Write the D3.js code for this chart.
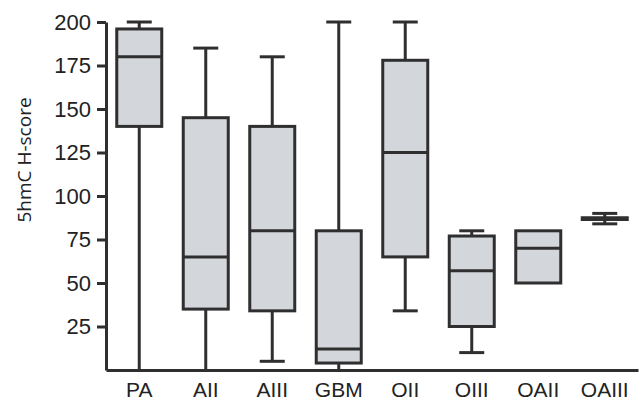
<!DOCTYPE html>
<html>
<head>
<meta charset="utf-8">
<script src="https://cdn.jsdelivr.net/npm/d3@7"></script>
<style>
  body { margin: 0; background: #fff; }
  svg { display: block; font-family: "Open Sans", "Liberation Sans", sans-serif; }
</style>
</head>
<body>
<svg class="box-chart" width="640" height="406"></svg>
<script>
let categories = ["PA", "AII", "AIII", "GBM", "OII", "OIII", "OAII", "OAIII"];
let whiskerLow  = [0,   0,   5,   0,   34,  10, 50, 84];
let q1          = [140, 35,  34,  4,   65,  25, 50, 86.5];
let median      = [180, 65,  80,  12,  125, 57, 70, 87];
let q3          = [196, 145, 140, 80,  178, 77, 80, 87.5];
let whiskerHigh = [200, 185, 180, 200, 200, 80, 80, 90];
let yTicks = [25, 50, 75, 100, 125, 150, 175, 200];

let dataSet = categories.map(function(c, i) {
  return { cat: c, lo: whiskerLow[i], q1: q1[i], med: median[i], q3: q3[i], hi: whiskerHigh[i] };
});

let lineColor = "#2f2f2f";
let boxWidth = 45;
let capWidth = 25;

let svg = d3.select(".box-chart");

let xScale = d3.scaleBand()
    .domain(categories)
    .range([106, 638])
    .padding(0);

let yScale = d3.scaleLinear()
    .domain([0, 200])
    .range([370, 22]);

let cx = function(d) { return xScale(d.cat) + xScale.bandwidth() / 2; };

let boxes = svg.append("g")
  .selectAll("g")
  .data(dataSet)
  .enter()
  .append("g");

// whiskers
boxes.append("line")
  .attr("x1", cx).attr("x2", cx)
  .attr("y1", function(d) { return yScale(d.hi); })
  .attr("y2", function(d) { return yScale(d.lo); })
  .attr("stroke", lineColor)
  .attr("stroke-width", 3);

// caps, only where the whisker sticks out of the box
boxes.filter(function(d) { return d.hi > d.q3; })
  .append("line")
  .attr("x1", function(d) { return cx(d) - capWidth / 2; })
  .attr("x2", function(d) { return cx(d) + capWidth / 2; })
  .attr("y1", function(d) { return yScale(d.hi); })
  .attr("y2", function(d) { return yScale(d.hi); })
  .attr("stroke", lineColor)
  .attr("stroke-width", 3);

boxes.filter(function(d) { return d.lo < d.q1 && d.lo > 0; })
  .append("line")
  .attr("x1", function(d) { return cx(d) - capWidth / 2; })
  .attr("x2", function(d) { return cx(d) + capWidth / 2; })
  .attr("y1", function(d) { return yScale(d.lo); })
  .attr("y2", function(d) { return yScale(d.lo); })
  .attr("stroke", lineColor)
  .attr("stroke-width", 3);

// boxes
boxes.append("rect")
  .attr("x", function(d) { return cx(d) - boxWidth / 2; })
  .attr("y", function(d) { return yScale(d.q3); })
  .attr("width", boxWidth)
  .attr("height", function(d) { return yScale(d.q1) - yScale(d.q3); })
  .attr("fill", "#d3d6db")
  .attr("stroke", lineColor)
  .attr("stroke-width", 3);

// medians
boxes.append("line")
  .attr("x1", function(d) { return cx(d) - boxWidth / 2; })
  .attr("x2", function(d) { return cx(d) + boxWidth / 2; })
  .attr("y1", function(d) { return yScale(d.med); })
  .attr("y2", function(d) { return yScale(d.med); })
  .attr("stroke", lineColor)
  .attr("stroke-width", 3);

// axes
let yAxis = d3.axisLeft(yScale).tickValues(yTicks).tickSize(9).tickSizeOuter(0).tickPadding(6);
let xAxis = d3.axisBottom(xScale).tickSize(0).tickSizeOuter(0).tickPadding(12);

let gy = svg.append("g")
  .attr("transform", "translate(106, 0)")
  .call(yAxis);
gy.selectAll("path, line").attr("stroke", lineColor).attr("stroke-width", 3);
gy.selectAll("text").attr("fill", "#222").style("font-size", "22px");

let gx = svg.append("g")
  .attr("transform", "translate(0, 370)")
  .call(xAxis);
gx.select("path").attr("stroke", lineColor).attr("stroke-width", 3);
gx.selectAll("text").attr("fill", "#222").style("font-size", "21px");

svg.append("text")
  .attr("transform", "translate(31, 160) rotate(-90)")
  .attr("text-anchor", "middle")
  .attr("fill", "#222")
  .style("font-size", "19px")
  .text("5hmC H-score");
</script>
</body>
</html>
